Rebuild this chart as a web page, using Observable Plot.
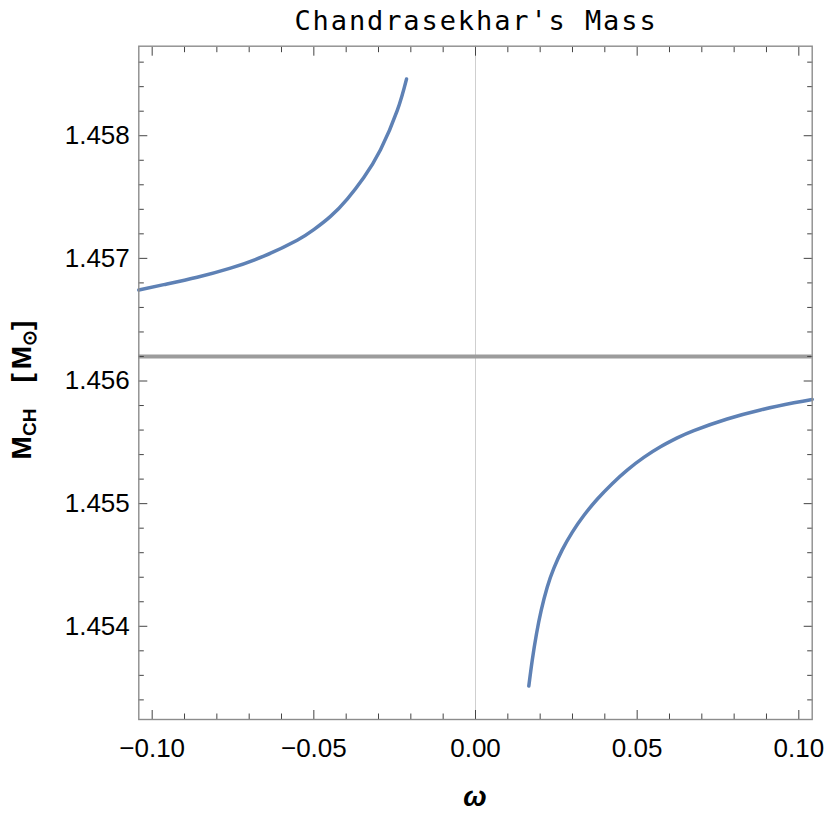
<!DOCTYPE html>
<html>
<head>
<meta charset="utf-8">
<script src="https://cdn.jsdelivr.net/npm/d3@7"></script>
<script src="https://cdn.jsdelivr.net/npm/@observablehq/plot@0.6"></script>
<style>
  html, body { margin: 0; padding: 0; background: #fff; }
</style>
</head>
<body>
<div id="chart"></div>
<script>
// ---- data ----
const omegaLeft = [-0.10414, -0.09641, -0.08608, -0.07578, -0.06548, -0.05515, -0.05002, -0.04485, -0.03968, -0.03455, -0.02938, -0.02422, -0.02134];
const massLeft  = [1.456742, 1.456786, 1.456846, 1.456920, 1.457018, 1.457148, 1.457234, 1.457342, 1.457484, 1.457660, 1.457886, 1.458204, 1.458462];

const omegaRight = [0.01649, 0.01754, 0.01887, 0.02032, 0.02218, 0.02422, 0.02682, 0.02991, 0.03350, 0.03764, 0.04228, 0.04692, 0.05206, 0.05722, 0.06239, 0.06753, 0.07785, 0.08815, 0.09846, 0.10414];
const massRight  = [1.453513, 1.453721, 1.453939, 1.454129, 1.454319, 1.454472, 1.454623, 1.454766, 1.454903, 1.455036, 1.455163, 1.455274, 1.455377, 1.455464, 1.455536, 1.455596, 1.455690, 1.455764, 1.455822, 1.455850];

const limitMass = [1.4562];

const xMajor = [-0.10, -0.05, 0.00, 0.05, 0.10];
const yMajor = [1.454, 1.455, 1.456, 1.457, 1.458];
const xMinor = [-0.09, -0.08, -0.07, -0.06, -0.04, -0.03, -0.02, -0.01, 0.01, 0.02, 0.03, 0.04, 0.06, 0.07, 0.08, 0.09];
const yMinor = [1.4534, 1.4536, 1.4538, 1.4542, 1.4544, 1.4546, 1.4548, 1.4552, 1.4554, 1.4556, 1.4558,
                1.4562, 1.4564, 1.4566, 1.4568, 1.4572, 1.4574, 1.4576, 1.4578, 1.4582, 1.4584, 1.4586];

const titleText = "Chandrasekhar's Mass";

const left = omegaLeft.map((w, i) => ({w, m: massLeft[i]}));
const right = omegaRight.map((w, i) => ({w, m: massRight[i]}));

const tickStyle = {stroke: "#444", strokeWidth: 1, tickFormat: () => "", label: null};
const MAJ = 9, MIN = 5.5;

const chart = Plot.plot({
  width: 830,
  height: 823,
  marginTop: 45.7,
  marginRight: 18.3,
  marginBottom: 104,
  marginLeft: 138.3,
  style: {fontFamily: "'Liberation Sans', Arial, sans-serif", fontSize: "26px", background: "#fff", color: "#000"},
  x: {domain: [-0.10414, 0.10414]},
  y: {domain: [1.45324, 1.45873]},
  marks: [
    Plot.ruleX([0], {stroke: "#cfcfcf", strokeWidth: 1}),
    Plot.ruleY(limitMass, {stroke: "#9c9c9c", strokeWidth: 4}),
    Plot.line(left, {x: "w", y: "m", stroke: "#5E81B5", strokeWidth: 3.5, curve: "natural"}),
    Plot.line(right, {x: "w", y: "m", stroke: "#5E81B5", strokeWidth: 3.5, curve: "natural"}),
    // labels
    Plot.axisX({anchor: "bottom", ticks: xMajor, tickSize: 0, tickPadding: 19, tickFormat: d3.format(".2f"), fontSize: 26, label: null}),
    Plot.axisY({anchor: "left", ticks: yMajor, tickSize: 0, tickPadding: 9, tickFormat: d3.format(".3f"), fontSize: 26, label: null}),
    // inward ticks, bottom
    Plot.axisX({anchor: "bottom", ticks: xMajor, tickSize: MAJ, dy: -MAJ, ...tickStyle}),
    Plot.axisX({anchor: "bottom", ticks: xMinor, tickSize: MIN, dy: -MIN, ...tickStyle}),
    // top
    Plot.axisX({anchor: "top", ticks: xMajor, tickSize: MAJ, dy: MAJ, ...tickStyle}),
    Plot.axisX({anchor: "top", ticks: xMinor, tickSize: MIN, dy: MIN, ...tickStyle}),
    // left
    Plot.axisY({anchor: "left", ticks: yMajor, tickSize: MAJ, dx: MAJ, ...tickStyle}),
    Plot.axisY({anchor: "left", ticks: yMinor, tickSize: MIN, dx: MIN, ...tickStyle}),
    // right
    Plot.axisY({anchor: "right", ticks: yMajor, tickSize: MAJ, dx: -MAJ, ...tickStyle}),
    Plot.axisY({anchor: "right", ticks: yMinor, tickSize: MIN, dx: -MIN, ...tickStyle}),
    Plot.frame({stroke: "#8c8c8c", strokeWidth: 1.4})
  ]
});

document.getElementById("chart").appendChild(chart);

const svg = d3.select(chart);

// title
svg.append("text")
  .attr("x", 476).attr("y", 30)
  .attr("text-anchor", "middle")
  .attr("font-family", "'DejaVu Sans Mono', monospace")
  .attr("font-size", 27)
  .attr("letter-spacing", "1.9px")
  .attr("fill", "#000")
  .text(titleText);

// x label
svg.append("text")
  .attr("x", 475).attr("y", 806)
  .attr("text-anchor", "middle")
  .attr("font-family", "'Liberation Sans', Arial, sans-serif")
  .attr("font-size", 28)
  .attr("font-style", "italic")
  .attr("font-weight", "bold")
  .attr("fill", "#000")
  .text("ω");

// y label
const yl = svg.append("text")
  .attr("transform", "translate(31,390) rotate(-90)")
  .attr("text-anchor", "middle")
  .attr("font-family", "'Liberation Sans', Arial, sans-serif")
  .attr("font-size", 28)
  .attr("font-weight", "bold")
  .attr("fill", "#000");
yl.append("tspan").text("M");
yl.append("tspan").attr("font-size", 19).attr("dy", 5).text("CH");
yl.append("tspan").attr("dy", -5).attr("dx", 26).text("[");
yl.append("tspan").attr("dx", 4).text("M");
yl.append("tspan").attr("font-size", 19).attr("dy", 5).text("⊙");
yl.append("tspan").attr("dy", -5).text("]");
</script>
</body>
</html>
